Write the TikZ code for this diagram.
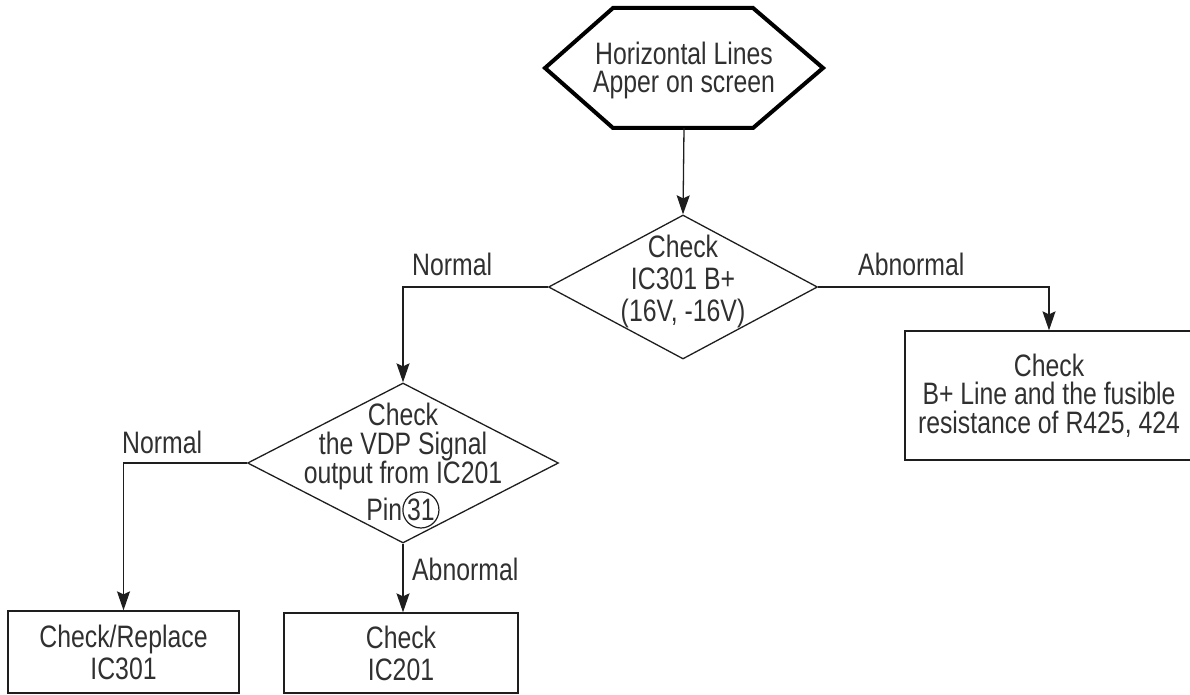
\documentclass[tikz,border=0pt]{standalone}
\usepackage{fontspec}
\setmainfont{Liberation Sans}[FakeStretch=0.8]
\usetikzlibrary{arrows.meta,shapes.geometric}
\definecolor{ink}{HTML}{303030}
\definecolor{lncol}{HTML}{1E1E1E}
\newcommand\pincirc[1]{\tikz[baseline=(pc.base)]\node[draw=lncol,line width=1.2pt,circle,inner sep=0.3pt,text=ink](pc){#1};}
\begin{document}
\begin{tikzpicture}[x=1pt,y=-1pt,
  txt/.style={text=ink,inner sep=0pt,align=center},
  lbl/.style={txt,anchor=base west,font=\fontsize{31}{31}\selectfont},
  box/.style={draw=lncol,line width=1.3pt,rectangle,inner sep=0pt,align=center,text=ink},
  dia/.style={draw=lncol,line width=1.3pt,diamond,inner sep=0pt},
  hexline/.style={draw=black,line width=4pt,line join=miter},
  arr/.style={draw=lncol,line width=1.3pt,-{Stealth[length=19pt,width=13pt,inset=3pt]}}]
\useasboundingbox (0,0) rectangle (1190,695);

% start hexagon
\draw[hexline] (545,68) -- (613,8) -- (753,8) -- (823,68) -- (753,128) -- (613,128) -- cycle;
\node[txt,font=\fontsize{31}{28}\selectfont] (start) at (684,70) {Horizontal Lines\\Apper on screen};
\coordinate (startb) at (684,128);

% decision 1
\node[dia,minimum width=269pt,minimum height=144pt] (d1) at (683,287) {};
\node[txt,font=\fontsize{31}{32}\selectfont] (d1t) at (683,281) {Check\\IC301 B+\\(16V, -16V)};

% decision 2
\node[dia,minimum width=311pt,minimum height=160pt] (d2) at (403,463) {};
\node[txt,font=\fontsize{31}{29}\selectfont] (d2t) at (403,466) {Check\\the VDP Signal\\output from IC201\\Pin\pincirc{31}};

% boxes
\node[box,minimum width=288pt,minimum height=129pt,font=\fontsize{31}{28.5}\selectfont] (b3) at (1049,395.5) {Check\\B+ Line and the fusible\\resistance of R425, 424};
\node[box,minimum width=231pt,minimum height=82pt,font=\fontsize{31}{32}\selectfont] (b4) at (123.5,652) {Check/Replace\\IC301};
\node[box,minimum width=234pt,minimum height=80pt,font=\fontsize{31}{32}\selectfont] (b5) at (401,653) {Check\\IC201};

% connectors
\draw[arr] (startb) -- (d1.north);
\draw[arr] (d1.west) -| (d2.north);
\draw[arr] (d1.east) -| (b3.north);
\draw[arr] (d2.west) -| (b4.north);
\draw[arr] (d2.south) -- (d2.south |- b5.north);

% labels
\node[lbl] (n1) at (412,275) {Normal};
\node[lbl] (a1) at (858,275) {Abnormal};
\node[lbl] (n2) at (122,453) {Normal};
\node[lbl] (a2) at (412,580) {Abnormal};
\end{tikzpicture}
\end{document}
